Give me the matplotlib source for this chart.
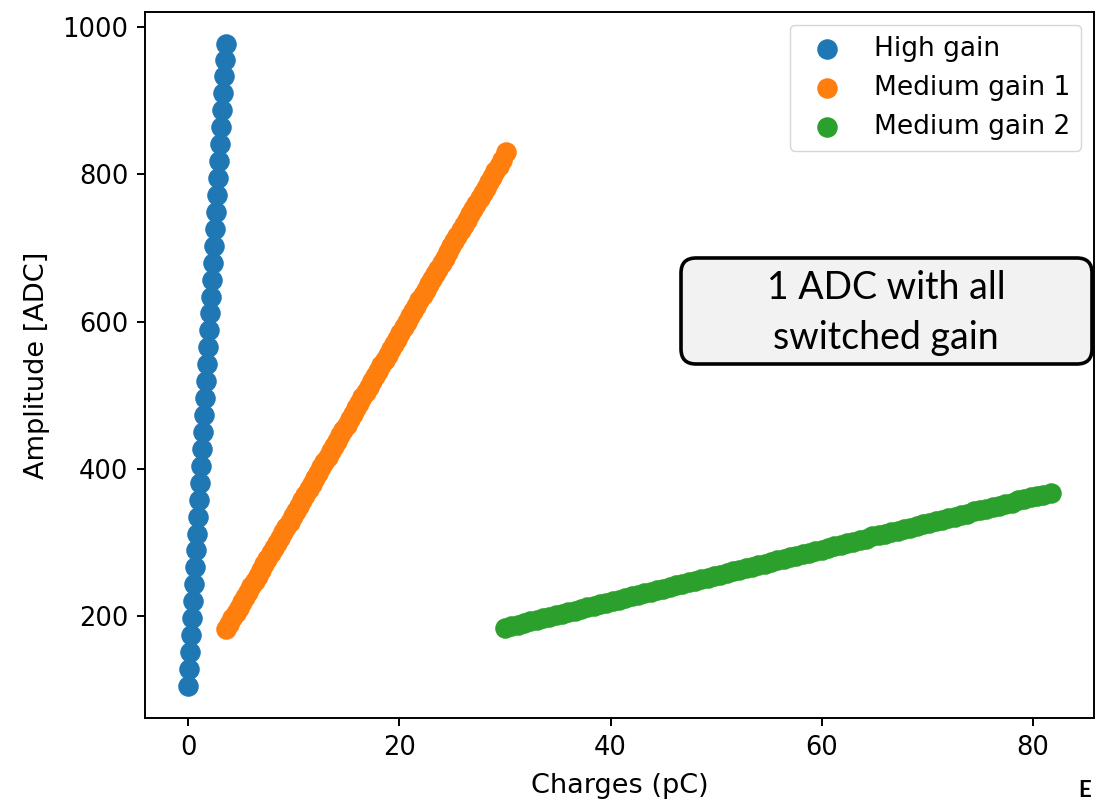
import matplotlib
matplotlib.use("Agg")
import matplotlib.pyplot as plt
from matplotlib.patches import FancyBboxPatch

# high gain: charge (pC) vs amplitude (ADC)
hg_charge = [0.0, 0.1, 0.19, 0.29, 0.38, 0.48, 0.57, 0.66, 0.76, 0.85,
             0.95, 1.04, 1.14, 1.23, 1.33, 1.42, 1.51, 1.61, 1.70, 1.80,
             1.89, 1.99, 2.08, 2.18, 2.27, 2.36, 2.46, 2.55, 2.65, 2.74,
             2.84, 2.93, 3.03, 3.12, 3.21, 3.31, 3.40, 3.50, 3.58]
hg_amp = [105, 128, 151, 174, 197, 220, 243, 266, 289, 312,
          335, 358, 381, 404, 427, 450, 473, 496, 519, 542,
          565, 588, 611, 634, 657, 680, 703, 726, 749, 772,
          795, 818, 841, 864, 887, 910, 933, 956, 977]

# medium gain 1
mg1_charge = [3.6, 3.9, 4.2, 4.5, 4.8, 5.1, 5.4, 5.7, 6.0, 6.3,
              6.6, 6.9, 7.2, 7.5, 7.8, 8.1, 8.4, 8.7, 9.0, 9.3,
              9.6, 9.9, 10.2, 10.5, 10.8, 11.1, 11.4, 11.7, 12.0, 12.3,
              12.6, 12.9, 13.2, 13.5, 13.8, 14.1, 14.4, 14.7, 15.0, 15.3,
              15.6, 15.9, 16.2, 16.5, 16.8, 17.1, 17.4, 17.7, 18.0, 18.3,
              18.6, 18.9, 19.2, 19.5, 19.8, 20.1, 20.4, 20.7, 21.0, 21.3,
              21.6, 21.9, 22.2, 22.5, 22.8, 23.1, 23.4, 23.7, 24.0, 24.3,
              24.6, 24.9, 25.2, 25.5, 25.8, 26.1, 26.4, 26.7, 27.0, 27.3,
              27.6, 27.9, 28.2, 28.5, 28.8, 29.1, 29.4, 29.7, 30.1]
mg1_amp = [182, 189, 197, 204, 211, 219, 226, 233, 241, 248,
           255, 263, 270, 277, 285, 292, 299, 306, 314, 321,
           328, 336, 343, 350, 358, 365, 372, 380, 387, 394,
           402, 409, 416, 424, 431, 438, 446, 453, 460, 468,
           475, 482, 489, 497, 504, 511, 519, 526, 533, 541,
           548, 555, 563, 570, 577, 585, 592, 599, 607, 614,
           621, 629, 636, 643, 651, 658, 665, 672, 680, 687,
           694, 702, 709, 716, 724, 731, 738, 746, 753, 760,
           768, 775, 782, 790, 797, 804, 812, 819, 830]

# medium gain 2
mg2_charge = [30.0, 30.6, 31.2, 31.8, 32.4, 33.0, 33.6, 34.2, 34.8, 35.4,
              36.0, 36.6, 37.2, 37.8, 38.4, 39.0, 39.6, 40.2, 40.8, 41.4,
              42.0, 42.6, 43.2, 43.8, 44.4, 45.0, 45.6, 46.2, 46.8, 47.4,
              48.0, 48.6, 49.2, 49.8, 50.4, 51.0, 51.6, 52.2, 52.8, 53.4,
              54.0, 54.6, 55.2, 55.8, 56.4, 57.0, 57.6, 58.2, 58.8, 59.4,
              60.0, 60.6, 61.2, 61.8, 62.4, 63.0, 63.6, 64.2, 64.8, 65.4,
              66.0, 66.6, 67.2, 67.8, 68.4, 69.0, 69.6, 70.2, 70.8, 71.4,
              72.0, 72.6, 73.2, 73.8, 74.4, 75.0, 75.6, 76.2, 76.8, 77.4,
              78.0, 78.6, 79.2, 79.8, 80.4, 81.0, 81.7]
mg2_amp = [184, 186, 188, 190, 193, 195, 197, 199, 201, 203,
           205, 207, 210, 212, 214, 216, 218, 220, 222, 224,
           227, 229, 231, 233, 235, 237, 239, 242, 244, 246,
           248, 250, 252, 254, 256, 259, 261, 263, 265, 267,
           269, 271, 273, 276, 278, 280, 282, 284, 286, 288,
           290, 293, 295, 297, 299, 301, 303, 305, 308, 310,
           312, 314, 316, 318, 320, 322, 325, 327, 329, 331,
           333, 335, 337, 339, 342, 344, 346, 348, 350, 352,
           354, 357, 359, 361, 363, 365, 367]

x_ticks = [0, 20, 40, 60, 80]
y_ticks = [200, 400, 600, 800, 1000]

plt.rcParams['font.size'] = 19
plt.rcParams['xtick.labelsize'] = 18.5
plt.rcParams['ytick.labelsize'] = 18.5
plt.rcParams['axes.labelsize'] = 19.5
plt.rcParams['legend.fontsize'] = 19
plt.rcParams['axes.linewidth'] = 1.4
plt.rcParams['xtick.major.size'] = 6
plt.rcParams['ytick.major.size'] = 6
plt.rcParams['xtick.major.width'] = 1.4
plt.rcParams['ytick.major.width'] = 1.4
plt.rcParams['xtick.major.pad'] = 6
plt.rcParams['ytick.major.pad'] = 6

fig = plt.figure(figsize=(10.96, 8.01), dpi=100)
ax = fig.add_axes([145/1096, 1 - 718/801, (1094 - 145)/1096, (718 - 12)/801])

ax.scatter(hg_charge, hg_amp, s=190, label='High gain')
ax.scatter(mg1_charge, mg1_amp, s=190, label='Medium gain 1')
ax.scatter(mg2_charge, mg2_amp, s=190, label='Medium gain 2')

ax.set_xticks(x_ticks)
ax.set_yticks(y_ticks)
ax.set_xlabel('Charges (pC)', labelpad=9)
ax.set_ylabel('Amplitude [ADC]', labelpad=9)
ax.legend(loc='upper right')

# annotation box drawn in inches
box = FancyBboxPatch((6.81, 4.37), 4.11, 1.06,
                     boxstyle='round,pad=0,rounding_size=0.15',
                     transform=fig.dpi_scale_trans,
                     facecolor='#f2f2f2', edgecolor='black', linewidth=2.6)
fig.patches.append(box)
fig.text(8.86 / 10.96, 4.88 / 8.01, '1 ADC with all\nswitched gain',
         ha='center', va='center', fontsize=27, family='Lato',
         linespacing=1.45)

fig.text(1078/1096, 4/801, 'E', fontsize=16, fontweight='bold',
         family='Lato', ha='left', va='baseline')

fig.savefig('out.png', dpi=100)
